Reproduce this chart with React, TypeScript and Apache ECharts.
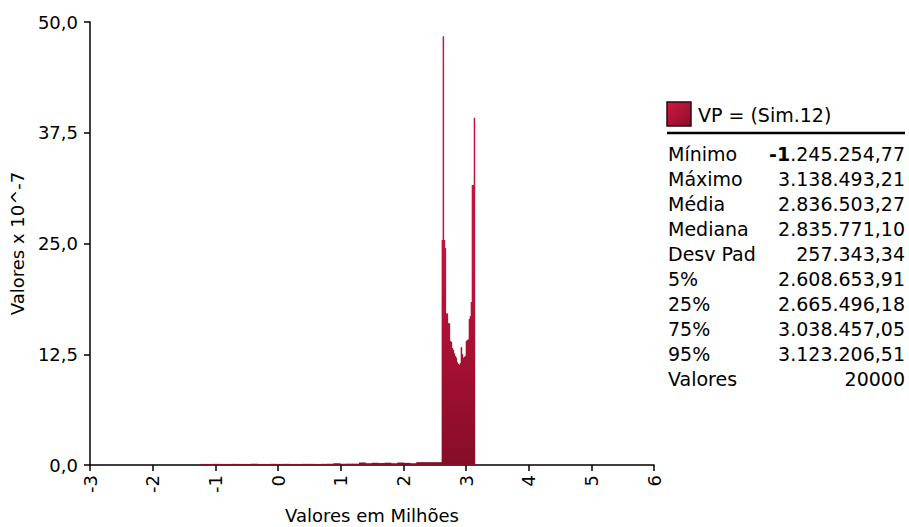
import React, { useEffect, useRef } from "react";
import * as echarts from "echarts";

// Histogram data (x in millions, density x 10^-7)
const tailStart = -1.245;
const tailWidth = 0.1015;
const tailValues = [
  0.12, 0.12, 0.13, 0.12, 0.12, 0.13, 0.12, 0.12, 0.13, 0.12, 0.12, 0.13, 0.12,
  0.13, 0.12, 0.12, 0.13, 0.13, 0.12, 0.13, 0.14, 0.2, 0.14, 0.15, 0.15, 0.28,
  0.2, 0.25, 0.22, 0.26, 0.2, 0.28, 0.24, 0.2, 0.32, 0.32, 0.32, 0.32,
];
const mainStart = 2.611;
const mainWidth = 0.016;
const mainValues = [
  25.4, 48.4, 25.4, 24.5, 17.1, 17.1, 16.0, 16.0, 14.0, 13.9, 13.2, 13.0, 12.6,
  12.3, 12.1, 11.6, 11.4, 11.3, 11.5, 13.3, 12.5, 12.1, 12.2, 12.3, 14.0, 14.1,
  14.2, 16.5, 16.8, 18.4, 31.6, 31.6, 39.2,
];

const xTicks = [-3, -2, -1, 0, 1, 2, 3, 4, 5, 6];
const yTicks = [0, 12.5, 25, 37.5, 50];

const legendTitle = "VP = (Sim.12)";
const statLabels = [
  "Mínimo", "Máximo", "Média", "Mediana", "Desv Pad", "5%", "25%", "75%", "95%", "Valores",
];
const statValues = [
  "-1.245.254,77", "3.138.493,21", "2.836.503,27", "2.835.771,10", "257.343,34",
  "2.608.653,91", "2.665.496,18", "3.038.457,05", "3.123.206,51", "20000",
];

const FONT = "'DejaVu Sans', 'Liberation Sans', sans-serif";
const FS = 18;
const FS_STAT = 19;

function buildBins() {
  const bins: number[][] = [];
  tailValues.forEach((v, i) => {
    bins.push([tailStart + i * tailWidth, tailStart + (i + 1) * tailWidth, v]);
  });
  mainValues.forEach((v, i) => {
    bins.push([mainStart + i * mainWidth, mainStart + (i + 1) * mainWidth, v]);
  });
  return bins;
}

export default function App() {
  const ref = useRef<HTMLDivElement>(null);
  useEffect(() => {
    document.body.style.margin = "0";
    if (!ref.current) return;
    const chart = echarts.init(ref.current, null, { renderer: "svg" });
    const bins = buildBins();
    const barFill = new echarts.graphic.LinearGradient(
      0, 22, 0, 465,
      [
        { offset: 0, color: "#cc1640" },
        { offset: 0.55, color: "#c2123a" },
        { offset: 1, color: "#850d28" },
      ],
      true
    );

    const graphics: any[] = [
      {
        type: "rect",
        shape: { x: 667, y: 102, width: 24, height: 24 },
        style: {
          fill: new echarts.graphic.LinearGradient(0, 0, 1, 1, [
            { offset: 0, color: "#d0183f" },
            { offset: 1, color: "#8a0e2a" },
          ]),
          stroke: "#2a0a10",
          lineWidth: 1.5,
        },
      },
      {
        type: "text",
        x: 698,
        y: 115,
        style: {
          text: legendTitle,
          font: `${FS_STAT}px ${FONT}`,
          fill: "#000",
          verticalAlign: "middle",
        },
      },
      {
        type: "line",
        shape: { x1: 667, y1: 133, x2: 905, y2: 133 },
        style: { stroke: "#000", lineWidth: 2.5 },
      },
    ];
    statLabels.forEach((lab, i) => {
      const y = 154 + i * 25;
      graphics.push({
        type: "text",
        x: 668,
        y,
        style: {
          text: lab,
          font: `${FS_STAT}px ${FONT}`,
          fill: "#000",
          verticalAlign: "middle",
        },
      });
      const val = statValues[i];
      const isNeg = val.startsWith("-1");
      graphics.push({
        type: "text",
        x: 905,
        y,
        style: isNeg
          ? {
              text: `{b|-1}{n|${val.slice(2)}}`,
              align: "right",
              verticalAlign: "middle",
              rich: {
                b: { font: `bold ${FS_STAT}px ${FONT}`, fill: "#000" },
                n: { font: `${FS_STAT}px ${FONT}`, fill: "#000" },
              },
            }
          : {
              text: val,
              font: `${FS_STAT}px ${FONT}`,
              fill: "#000",
              align: "right",
              verticalAlign: "middle",
            },
      });
    });

    chart.setOption({
      animation: false,
      backgroundColor: "#fff",
      grid: {
        left: 90,
        right: 255,
        top: 22,
        bottom: 62,
        containLabel: false,
        outerBoundsMode: "none",
      },
      xAxis: {
        type: "value",
        min: xTicks[0],
        max: xTicks[xTicks.length - 1],
        interval: 1,
        splitLine: { show: false },
        axisLine: { show: true, onZero: false, lineStyle: { color: "#000", width: 1.5 } },
        axisTick: { show: true, length: 6, lineStyle: { color: "#000", width: 1.5 } },
        axisLabel: {
          rotate: 90,
          fontSize: FS,
          fontFamily: FONT,
          color: "#000",
          margin: 10,
          formatter: (v: number) => String(v),
        },
        name: "Valores em Milhões",
        nameLocation: "middle",
        nameGap: 41,
        nameTextStyle: { fontSize: FS, fontFamily: FONT, color: "#000" },
      },
      yAxis: {
        type: "value",
        min: yTicks[0],
        max: yTicks[yTicks.length - 1],
        interval: 12.5,
        splitLine: { show: false },
        axisLine: { show: true, onZero: false, lineStyle: { color: "#000", width: 1.5 } },
        axisTick: { show: true, length: 6, lineStyle: { color: "#000", width: 1.5 } },
        axisLabel: {
          fontSize: FS,
          fontFamily: FONT,
          color: "#000",
          margin: 12,
          formatter: (v: number) => v.toFixed(1).replace(".", ","),
        },
        name: "Valores x 10^-7",
        nameLocation: "middle",
        nameGap: 64,
        nameTextStyle: { fontSize: FS, fontFamily: FONT, color: "#000" },
      },
      series: [
        {
          type: "custom",
          data: bins,
          encode: { x: [0, 1], y: 2 },
          renderItem: (params: any, api: any) => {
            const x0 = api.value(0);
            const x1 = api.value(1);
            const h = api.value(2);
            const p0 = api.coord([x0, h]);
            const p1 = api.coord([x1, 0]);
            return {
              type: "rect",
              shape: {
                x: p0[0],
                y: p0[1],
                width: p1[0] - p0[0] + 0.5,
                height: Math.max(p1[1] - p0[1], 1),
              },
              style: { fill: barFill },
            };
          },
        },
      ],
      graphic: graphics,
    });
    return () => chart.dispose();
  }, []);
  return <div ref={ref} style={{ width: 909, height: 527 }} />;
}
